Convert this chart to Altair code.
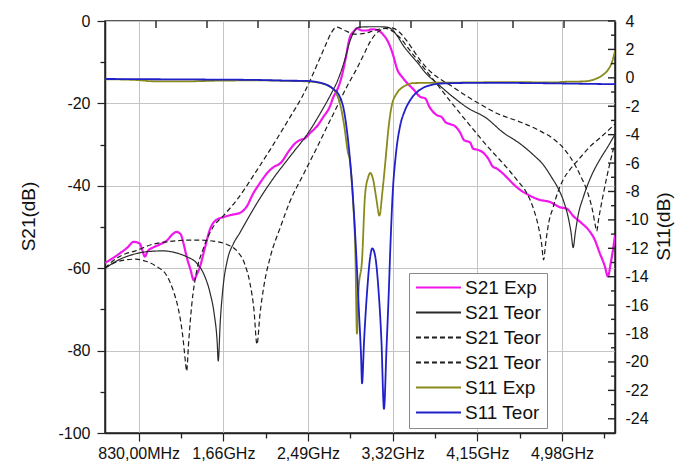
import altair as alt
import pandas as pd

# ---------------- data (frequency in GHz, level in dB) ----------------
s21_exp_f = [0.50, 0.58, 0.65, 0.72, 0.78, 0.84, 0.87, 0.89, 0.92, 0.97, 1.04, 1.11, 1.16, 1.20, 1.24, 1.27,
             1.30, 1.34, 1.37, 1.40, 1.43, 1.48, 1.53, 1.58, 1.66, 1.75, 1.82, 1.89, 1.95, 2.02, 2.09, 2.15,
             2.22, 2.31, 2.36, 2.41, 2.46, 2.51, 2.58, 2.64, 2.70, 2.74, 2.78, 2.82, 2.86, 2.90, 2.94, 2.97,
             3.02, 3.07, 3.12, 3.17, 3.23, 3.27, 3.30, 3.33, 3.36, 3.42, 3.46, 3.52, 3.59, 3.64, 3.68, 3.75,
             3.80, 3.84, 3.88, 3.93, 3.98, 4.02, 4.08, 4.11, 4.16, 4.21, 4.26, 4.30, 4.34, 4.40, 4.50, 4.57,
             4.65, 4.76, 4.86, 4.96, 5.03, 5.09, 5.17, 5.25, 5.30, 5.35, 5.40, 5.43, 5.46, 5.48, 5.50]
s21_exp_db = [-58.7, -57.5, -56.3, -55.0, -53.6, -54.0, -56.0, -57.2, -55.8, -55.0, -54.2, -53.2, -51.8, -51.2,
              -51.7, -54.0, -57.2, -60.5, -62.9, -61.5, -59.7, -55.0, -50.5, -48.5, -47.6, -47.0, -46.6, -45.0,
              -42.0, -39.3, -36.9, -35.5, -34.5, -31.3, -29.8, -28.9, -28.5, -27.2, -25.5, -23.3, -21.0, -18.4,
              -16.5, -13.5, -9.0, -4.0, -2.5, -1.8, -2.3, -2.3, -2.0, -2.2, -3.4, -4.8, -6.5, -8.7, -11.4, -13.8,
              -15.0, -16.5, -18.4, -18.8, -20.8, -22.8, -23.3, -24.6, -25.0, -25.5, -27.0, -28.9, -29.5, -31.0,
              -31.3, -32.0, -33.5, -35.3, -35.8, -37.0, -39.5, -41.0, -42.2, -43.4, -43.9, -45.2, -45.6, -47.3,
              -49.0, -51.0, -53.0, -56.3, -59.5, -62.0, -58.5, -55.6, -52.0]

s21_teor_f = [0.50, 0.65, 0.80, 0.95, 1.07, 1.20, 1.30, 1.40, 1.47, 1.53, 1.57, 1.60, 1.61, 1.63, 1.66, 1.70,
              1.76, 1.82, 1.90, 2.00, 2.15, 2.31, 2.51, 2.62, 2.71, 2.78, 2.85, 2.90, 2.95, 2.99, 3.10, 3.20,
              3.27, 3.32, 3.37, 3.42, 3.49, 3.56, 3.65, 3.75, 3.91, 4.05, 4.24, 4.40, 4.57, 4.70, 4.80, 4.88,
              4.94, 5.00, 5.04, 5.07, 5.09, 5.11, 5.14, 5.19, 5.27, 5.35, 5.43, 5.50]
s21_teor_db = [-60.0, -57.8, -56.5, -55.9, -55.8, -56.3, -57.2, -58.8, -61.5, -66.0, -71.0, -78.0, -82.5, -73.0,
               -64.0, -58.0, -54.0, -51.5, -48.0, -43.8, -38.2, -33.0, -26.5, -22.0, -18.0, -14.5, -9.5, -5.0,
               -2.3, -1.5, -1.4, -1.4, -1.5, -2.2, -3.8, -5.8, -8.0, -10.0, -12.8, -15.0, -18.4, -21.0, -23.6,
               -27.0, -29.8, -32.5, -35.0, -38.0, -40.5, -44.0, -47.5, -51.5, -55.0, -51.5, -47.0, -42.7, -37.5,
               -33.7, -30.5, -27.5]

s21_teor_a_f = [0.50, 0.60, 0.70, 0.80, 0.90, 1.00, 1.11, 1.17, 1.22, 1.26, 1.29, 1.30, 1.32, 1.35, 1.40, 1.46,
                1.56, 1.66, 1.79, 1.99, 2.15, 2.31, 2.43, 2.51, 2.59, 2.66, 2.72, 2.77, 2.85, 2.95, 3.05, 3.15,
                3.25, 3.32, 3.39, 3.50, 3.62, 3.75, 3.88, 4.00, 4.10, 4.27, 4.40, 4.54, 4.64, 4.70, 4.75, 4.78,
                4.80, 4.82, 4.85, 4.89, 4.94, 4.99, 5.06, 5.13, 5.25, 5.37, 5.50]
s21_teor_a_db = [-60.0, -58.6, -58.0, -57.8, -58.3, -59.5, -62.0, -65.5, -70.0, -76.0, -83.0, -85.0, -78.0,
                 -69.0, -60.5, -55.5, -50.0, -47.3, -43.5, -36.2, -30.0, -23.5, -18.5, -14.5, -10.0, -6.0, -2.8,
                 -1.5, -2.3, -3.2, -3.0, -2.2, -1.8, -2.5, -4.0, -7.5, -11.2, -15.2, -19.3, -23.0, -26.0, -31.0,
                 -34.5, -38.6, -42.0, -45.5, -50.0, -54.0, -58.0, -54.0, -49.0, -45.5, -41.5, -38.6, -36.0, -34.0,
                 -30.6, -28.0, -25.0]

s21_teor_b_f = [0.50, 0.60, 0.70, 0.80, 0.95, 1.11, 1.30, 1.43, 1.55, 1.70, 1.80, 1.87, 1.92, 1.96, 1.99, 2.02,
                2.06, 2.12, 2.22, 2.31, 2.45, 2.58, 2.68, 2.77, 2.87, 2.97, 3.05, 3.10, 3.16, 3.22, 3.28, 3.33,
                3.38, 3.45, 3.52, 3.59, 3.70, 3.80, 3.91, 4.05, 4.18, 4.35, 4.57, 4.75, 4.89, 5.00, 5.06, 5.12,
                5.17, 5.23, 5.28, 5.31, 5.32, 5.34, 5.38, 5.45, 5.50]
s21_teor_b_db = [-60.0, -57.8, -56.5, -55.8, -54.3, -53.6, -53.2, -53.2, -53.4, -54.3, -56.0, -59.0, -63.5,
                 -70.0, -78.5, -71.0, -64.0, -57.3, -50.0, -44.0, -37.0, -30.6, -25.5, -21.0, -16.0, -11.5, -7.5,
                 -5.0, -3.0, -2.0, -1.6, -1.8, -2.6, -4.5, -7.0, -9.5, -12.5, -14.3, -16.0, -18.3, -20.2, -22.5,
                 -24.5, -26.5, -28.5, -31.0, -33.0, -35.5, -38.0, -41.5, -46.0, -50.0, -51.0, -48.0, -42.7, -34.5,
                 -29.5]

s11_exp_f = [0.50, 0.80, 1.00, 1.30, 1.60, 2.00, 2.30, 2.48, 2.60, 2.70, 2.76, 2.81, 2.85, 2.88, 2.90, 2.93,
             2.955, 2.97, 2.985, 3.02, 3.05, 3.08, 3.10, 3.13, 3.16, 3.19, 3.22, 3.25, 3.28, 3.31, 3.36, 3.41,
             3.46, 3.52, 4.00, 4.50, 4.90, 5.00, 5.20, 5.30, 5.38, 5.43, 5.47, 5.50]
s11_exp_db = [-0.10, -0.15, -0.25, -0.25, -0.20, -0.18, -0.22, -0.25, -0.35, -0.60, -1.0, -2.0, -3.6, -5.2, -5.8,
              -8.5, -12.5, -18.0, -15.0, -12.8, -8.2, -7.0, -6.7, -7.2, -8.5, -9.7, -8.0, -5.8, -3.5, -2.0, -1.1,
              -0.7, -0.5, -0.37, -0.33, -0.30, -0.33, -0.28, -0.25, -0.10, 0.20, 0.55, 1.10, 1.90]

s11_teor_f = [0.50, 1.00, 1.50, 2.00, 2.30, 2.48, 2.58, 2.66, 2.74, 2.80, 2.84, 2.87, 2.90, 2.93, 2.96, 2.99,
              3.01, 3.02, 3.04, 3.07, 3.10, 3.12, 3.15, 3.18, 3.21, 3.235, 3.26, 3.28, 3.30, 3.32, 3.35, 3.39,
              3.44, 3.49, 3.56, 3.62, 3.70, 3.80, 4.20, 4.80, 5.20, 5.50]
s11_teor_db = [-0.08, -0.10, -0.12, -0.15, -0.20, -0.22, -0.30, -0.45, -0.80, -1.3, -2.2, -3.6, -5.6, -8.3,
               -12.0, -16.5, -19.5, -21.5, -18.5, -15.0, -12.6, -12.0, -12.6, -14.8, -18.5, -23.3, -19.0, -15.5,
               -11.5, -8.2, -5.5, -3.5, -2.3, -1.6, -1.0, -0.7, -0.5, -0.4, -0.35, -0.38, -0.42, -0.45]

series_keys = ["S21 Exp", "S21 Teor", "S21 Teor A", "S21 Teor B", "S11 Exp", "S11 Teor"]
series_colors = ["#f016ec", "#2a2a2a", "#1c1c1c", "#1c1c1c", "#8a8a1c", "#2020c8"]
series_dash = [[1, 0], [1, 0], [5, 3], [5, 3], [1, 0], [1, 0]]
series_width = [2.2, 1.2, 1.2, 1.2, 1.8, 1.8]

x_major = [830, 1660, 2490, 3320, 4150, 4980]
x_labels = ["830,00MHz", "1,66GHz", "2,49GHz", "3,32GHz", "4,15GHz", "4,98GHz"]
x_minor = [1245, 2075, 2905, 3735, 4565, 5395]
x_top = [1000, 1500, 2000, 2500, 3000, 3500, 4000, 4500, 5000]
yl_major = [-100, -80, -60, -40, -20, 0]
yl_minor = [-90, -70, -50, -30, -10]
yr_major = [-24, -22, -20, -18, -16, -14, -12, -10, -8, -6, -4, -2, 0, 2, 4]
yr_minor = [-23, -21, -19, -17, -15, -13, -11, -9, -7, -5, -3, -1, 1, 3]

W, H = 510, 412
FONT = "Liberation Sans"
INK = "#222222"

x_scale = alt.Scale(domain=[500, 5500], nice=False, zero=False)
yl_scale = alt.Scale(domain=[-100, 0], nice=False, zero=False)
yr_scale = alt.Scale(domain=[-25, 4], nice=False, zero=False)

x_label_expr = " : ".join(f"datum.value == {v} ? '{t}'" for v, t in zip(x_major, x_labels)) + " : ''"

x_axis = alt.Axis(values=x_major, labelExpr=x_label_expr, title=None, grid=True, tickSize=8,
                  labelPadding=4, labelFontSize=16, labelFont=FONT, labelColor="#111",
                  labelFlush=False, labelOverlap=False)
yl_axis = alt.Axis(values=yl_major, labelExpr="'' + datum.value", title="S21(dB)", grid=True, tickSize=8,
                   labelPadding=7, labelFontSize=16, labelFont=FONT, labelColor="#111",
                   titleFontSize=19, titleFont=FONT, titleFontWeight="normal", titleColor="#111",
                   titleX=-77, titleY=195, titleAngle=270, titleAlign="center", titleBaseline="middle",
                   labelFlush=False)
yr_axis = alt.Axis(orient="right", values=yr_major, labelExpr="'' + datum.value", title="S11(dB)",
                   grid=False, ticks=False, labelPadding=10, labelFontSize=16, labelFont=FONT,
                   labelColor="#111", titleFontSize=19, titleFont=FONT, titleFontWeight="normal",
                   titleColor="#111", titleX=48, titleY=205, titleAngle=270, titleAlign="center",
                   titleBaseline="middle", labelFlush=False)


def tick_axis(orient, vals, size):
    return alt.Axis(orient=orient, values=vals, labels=False, domain=False, grid=False, title=None,
                    tickSize=size, tickColor=INK, tickWidth=1.3)


legend = alt.Legend(title=None, orient="none", legendX=304, legendY=252, symbolType="M-3,0H3",
                    symbolSize=225, symbolOffset=15, labelOffset=17, symbolStrokeWidth=2,
                    labelFontSize=19, labelFont=FONT, labelColor="#111", rowPadding=5, padding=5,
                    strokeColor="#8a8a8a", fillColor="white",
                    labelExpr="datum.value == 'S21 Teor A' || datum.value == 'S21 Teor B' ? 'S21 Teor' : datum.value")

color_enc = alt.Color("series:N", scale=alt.Scale(domain=series_keys, range=series_colors), legend=legend)
dash_enc = alt.StrokeDash("series:N", scale=alt.Scale(domain=series_keys, range=series_dash), legend=legend)

curves = [
    ("S21 Exp", s21_exp_f, s21_exp_db, "left"),
    ("S21 Teor", s21_teor_f, s21_teor_db, "left"),
    ("S21 Teor A", s21_teor_a_f, s21_teor_a_db, "left"),
    ("S21 Teor B", s21_teor_b_f, s21_teor_b_db, "left"),
    ("S11 Exp", s11_exp_f, s11_exp_db, "right"),
    ("S11 Teor", s11_teor_f, s11_teor_db, "right"),
]

layers = []
first_left = True
first_right = True
for key, f, db, side in curves:
    df = pd.DataFrame({"f": [round(v * 1000, 3) for v in f], "db": db, "series": key})
    if side == "left":
        ax = yl_axis if first_left else None
        first_left = False
        ysc = yl_scale
    else:
        ax = yr_axis if first_right else None
        first_right = False
        ysc = yr_scale
    xax = x_axis if key == "S21 Exp" else None
    width = series_width[series_keys.index(key)]
    layers.append(
        alt.Chart(df).mark_line(interpolate="monotone", clip=True, strokeWidth=width).encode(
            x=alt.X("f:Q", scale=x_scale, axis=xax),
            y=alt.Y("db:Q", scale=ysc, axis=ax),
            color=color_enc, strokeDash=dash_enc)
    )

# invisible carriers for the extra tick-only axes (outer minor ticks)
def x_tick_layer(vals, axis):
    return alt.Chart(pd.DataFrame({"v": vals})).mark_point(opacity=0).encode(
        x=alt.X("v:Q", scale=x_scale, axis=axis))

def y_tick_layer(vals, scale, axis):
    return alt.Chart(pd.DataFrame({"v": vals})).mark_point(opacity=0).encode(
        y=alt.Y("v:Q", scale=scale, axis=axis))

# inner ticks (top edge and right edge) as short rules
def top_rules(vals, length):
    return alt.Chart(pd.DataFrame({"v": vals})).mark_rule(color=INK, strokeWidth=1.4).encode(
        x=alt.X("v:Q", scale=x_scale, axis=None), y=alt.value(0), y2=alt.value(length))

def right_rules(vals, length):
    return alt.Chart(pd.DataFrame({"v": vals})).mark_rule(color=INK, strokeWidth=1.4).encode(
        y=alt.Y("v:Q", scale=yr_scale, axis=None), x=alt.value(W - length), x2=alt.value(W))

layers += [
    x_tick_layer(x_minor, tick_axis("bottom", x_minor, 5)),
    y_tick_layer(yl_minor, yl_scale, tick_axis("left", yl_minor, 5)),
    top_rules(x_top, 7),
    right_rules(yr_major, 7),
    right_rules(yr_minor, 4),
]

chart = alt.layer(*layers).resolve_scale(y="independent").resolve_axis(x="independent", y="independent").properties(
    width=W, height=H,
    autosize=alt.AutoSizeParams(type="none"),
    padding={"left": 105, "top": 21, "right": 75, "bottom": 30},
    background="white",
).configure_view(stroke=INK, strokeWidth=1.5).configure_axis(
    domainColor=INK, domainWidth=1.5, tickColor=INK, tickWidth=1.2, gridColor="#c4c4c4", gridWidth=1
)

chart.save("out.html", embed_options={"renderer": "svg", "actions": False})
